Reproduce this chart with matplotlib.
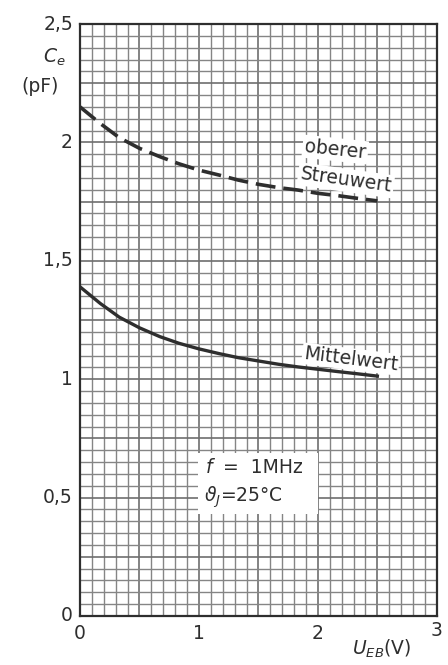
import matplotlib.pyplot as plt
from matplotlib.ticker import MultipleLocator
from matplotlib.patches import Rectangle

# Eingangskapazität C_e über U_EB
u_eb = [0.0, 0.17, 0.33, 0.5, 0.67, 0.83, 1.0, 1.17, 1.33, 1.5, 1.67, 1.83, 2.0, 2.17, 2.33, 2.5]
ce_oberer = [2.15, 2.08, 2.02, 1.975, 1.94, 1.91, 1.883, 1.862, 1.841, 1.823,
             1.809, 1.799, 1.785, 1.775, 1.764, 1.753]
ce_mittel = [1.39, 1.32, 1.262, 1.217, 1.18, 1.152, 1.128, 1.108, 1.091, 1.077,
             1.063, 1.052, 1.042, 1.032, 1.023, 1.013]

x_ticks = [0, 1, 2, 3]
x_labels = ['0', '1', '2', '3']
y_ticks = [0, 0.5, 1, 1.5, 2, 2.5]
y_labels = ['0', '0,5', '1', '1,5', '2', '2,5']

plt.rcParams['font.family'] = ['DejaVu Sans']
ink = '#2e2e2e'
fs = 13.5

fig = plt.figure(figsize=(4.48, 6.65), dpi=100)
ax = fig.add_axes([0.1786, 0.0737, 0.7964, 0.8902])

ax.set_xlim(0, 3)
ax.set_ylim(0, 2.5)

# Millimeterpapier-Raster
ax.xaxis.set_major_locator(MultipleLocator(0.5))
ax.xaxis.set_minor_locator(MultipleLocator(0.1))
ax.yaxis.set_major_locator(MultipleLocator(0.25))
ax.yaxis.set_minor_locator(MultipleLocator(0.05))
ax.grid(which='minor', color='#858585', linewidth=1.0)
ax.grid(which='major', color='#6e6e6e', linewidth=1.2)
ax.tick_params(which='both', length=0, labelbottom=False, labelleft=False)
ax.set_axisbelow(True)
for s in ax.spines.values():
    s.set_color(ink)
    s.set_linewidth(1.6)

# Achsbeschriftungen
for v, lab in zip(x_ticks, x_labels):
    dy = -0.075 if v < 3 else -0.06
    ax.text(v, dy, lab, ha='center', va='center', fontsize=fs, color=ink, clip_on=False)
for v, lab in zip(y_ticks, y_labels):
    ax.text(-0.06, v, lab, ha='right', va='center', fontsize=fs, color=ink, clip_on=False)

fig.text(54 / 448, 1 - 57 / 665, r'$C_e$', ha='center', va='center', fontsize=fs, color=ink)
fig.text(40 / 448, 1 - 87 / 665, '(pF)', ha='center', va='center', fontsize=fs, color=ink)
ax.text(2.54, -0.14, r'$U_{EB}$(V)', ha='center', va='center', fontsize=fs, color=ink, clip_on=False)

# Kurven
ax.plot(u_eb, ce_oberer, color=ink, linewidth=2.6, dashes=(5.5, 2.2), solid_capstyle='butt')
ax.plot(u_eb, ce_mittel, color=ink, linewidth=2.4)

ax.text(1.88, 1.97, 'oberer', fontsize=fs, color=ink, rotation=-6, ha='left', va='center',
        bbox=dict(facecolor='white', edgecolor='none', pad=1.5))
ax.text(1.84, 1.84, 'Streuwert', fontsize=fs, color=ink, rotation=-8, ha='left', va='center',
        bbox=dict(facecolor='white', edgecolor='none', pad=1.5))
ax.text(1.87, 1.085, 'Mittelwert', fontsize=fs, color=ink, rotation=-7, ha='left', va='center',
        bbox=dict(facecolor='white', edgecolor='none', pad=1.0))

# Messbedingungen
ax.add_patch(Rectangle((0.99, 0.43), 1.01, 0.26, facecolor='white', edgecolor='none', zorder=2))
ax.text(1.05, 0.625, r'$f$', fontsize=fs, color=ink, ha='left', va='center', zorder=3)
ax.text(1.2, 0.625, '=  1MHz', fontsize=fs, color=ink, ha='left', va='center', zorder=3)
ax.text(1.04, 0.5, r'$\vartheta_J$=25°C', fontsize=fs, color=ink, ha='left', va='center', zorder=3)

fig.savefig('out.png', dpi=100, facecolor='white')
